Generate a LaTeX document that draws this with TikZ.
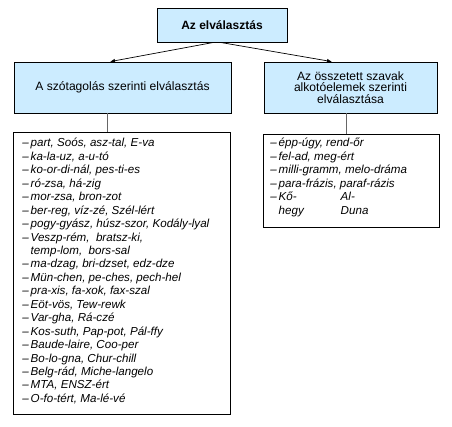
\documentclass[tikz,border=0pt]{standalone}
\usepackage{fontspec}
\setmainfont{Liberation Sans}
\usetikzlibrary{arrows.meta,positioning,calc}
\definecolor{boxblue}{RGB}{204,236,255}

\tikzset{
  head/.style={draw,fill=boxblue,inner sep=0pt,align=center,
    font=\fontsize{12.1}{11.8}\selectfont},
  listbox/.style={draw,inner sep=0pt,anchor=north west},
  listtext/.style={anchor=north west,align=left,inner sep=0pt,
    font=\fontsize{11.6}{13.45}\selectfont\itshape},
  link/.style={-{Latex[length=5pt,width=4pt]}},
  stem/.style={draw=black!60},
}

\begin{document}
\begin{tikzpicture}[x=1pt,y=-1pt,line width=0.7pt]
\useasboundingbox (0,0) rectangle (452,427);
% ---------- fejlécek ----------
\node[head,minimum width=130pt,minimum height=34pt,font=\bfseries\fontsize{12}{12}\selectfont]
  (main) at (222,25) {Az elválasztás};
\node[head,minimum width=217pt,minimum height=51pt] (szot) at (122.5,87.5)
  {A szótagolás szerinti elválasztás};
\node[head,minimum width=173pt,minimum height=51pt] (oszt) at (350.5,87.5)
  {Az összetett szavak\\alkotóelemek szerinti\\elválasztása};
% ---------- listák ----------
\node[listbox,minimum width=217pt,minimum height=282pt] (szlist) at (13,132) {};
\node[listbox,minimum width=176pt,minimum height=93pt] (oslist) at (263,134) {};
\node[listtext] (sztext) at (22,138) {%
  –\,part, Soós, asz-tal, E-va\\
  –\,ka-la-uz, a-u-tó\\
  –\,ko-or-di-nál, pes-ti-es\\
  –\,ró-zsa, há-zig\\
  –\,mor-zsa, bron-zot\\
  –\,ber-reg, víz-zé, Szél-lért\\
  –\,pogy-gyász, húsz-szor, Kodály-lyal\\
  –\,Veszp-rém,\ \ bratsz-ki,\\
  \phantom{–\,}temp-lom,\ \ bors-sal\\
  –\,ma-dzag, bri-dzset, edz-dze\\
  –\,Mün-chen, pe-ches, pech-hel\\
  –\,pra-xis, fa-xok, fax-szal\\
  –\,Eöt-vös, Tew-rewk\\
  –\,Var-gha, Rá-czé\\
  –\,Kos-suth, Pap-pot, Pál-ffy\\
  –\,Baude-laire, Coo-per\\
  –\,Bo-lo-gna, Chur-chill\\
  –\,Belg-rád, Miche-langelo\\
  –\,MTA, ENSZ-ért\\
  –\,O-fo-tért, Ma-lé-vé};
\node[listtext] (ostext) at (270,138) {%
  –\,épp-úgy, rend-őr\\
  –\,fel-ad, meg-ért\\
  –\,milli-gramm, melo-dráma\\
  –\,para-frázis, paraf-rázis\\
  –\,\makebox[62pt][l]{Kő-}Al-\\
  \phantom{–\,}\makebox[62pt][l]{hegy}Duna};
% ---------- összekötők ----------
\draw[link] ([xshift=-8pt]main.south) -- ([xshift=-12.5pt]szot.north);
\draw[link] ([xshift=-2pt]main.south) -- ([xshift=-18.5pt]oszt.north);
\draw[stem] ([xshift=-15.5pt]szot.south) -- ([xshift=-15.5pt]szot.south |- szlist.north);
\draw[stem] ([xshift=-4.5pt]oszt.south) -- ([xshift=-4.5pt]oszt.south |- oslist.north);
\end{tikzpicture}
\end{document}
